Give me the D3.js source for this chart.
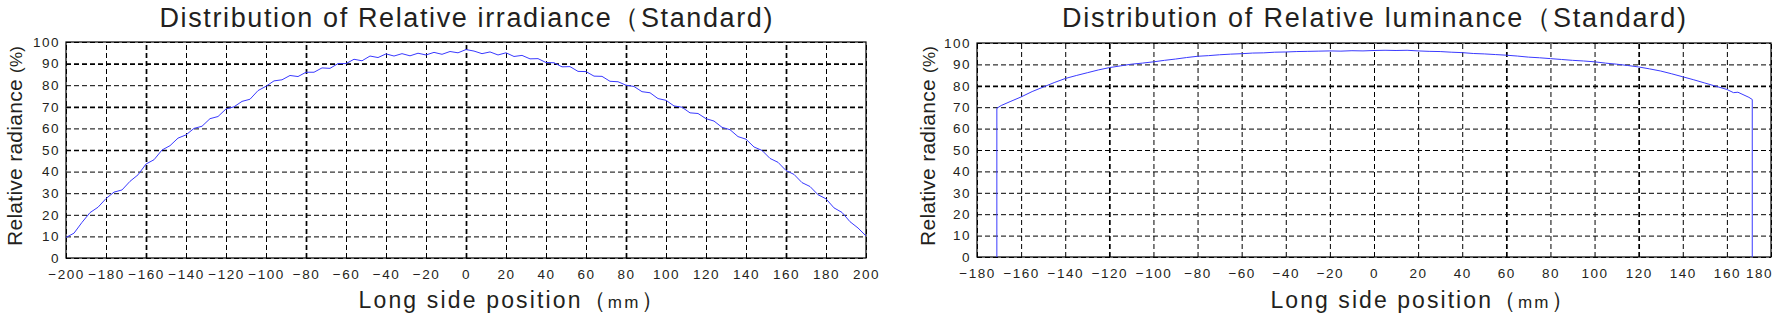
<!DOCTYPE html>
<html>
<head>
<meta charset="utf-8">
<script src="https://cdn.jsdelivr.net/npm/d3@7"></script>
<style>
  body { margin: 0; background: #fff; }
  svg { display: block; }
  text { font-family: "Liberation Sans", Arial, sans-serif; fill: #231f20; }
</style>
</head>
<body>
<svg id="chart" width="1782" height="318"></svg>
<script>
//tick values
var yTicks = [0, 10, 20, 30, 40, 50, 60, 70, 80, 90, 100];
var irrTicks = d3.range(-200, 201, 20);
var lumTicks = d3.range(-180, 181, 20);

//irradiance curve, one value every 4 mm from -200 to 200
var irrPos = d3.range(-200, 201, 4);
var irrVal = [
	9.5, 11.5, 16.5, 21, 23.5, 27.5, 30.5, 31.5, 35.5, 38.5,
	43.5, 45.5, 50, 52, 55.5, 57, 60, 61, 64.5, 65.5,
	69, 70, 72.5, 73.5, 77.5, 79.5, 82, 82.5, 84.5, 84,
	86, 86, 88, 87.8, 90, 90, 92, 91.3, 93.5, 92.8,
	94.5, 93.5, 94.6, 93.6, 94.8, 94, 95.2, 94.3, 95.6, 95,
	96.5, 95.8, 94.6, 95.4, 94, 95, 93.3, 93.8, 92.2, 92.3,
	90.5, 90.4, 88.5, 88.6, 86.4, 86.3, 84.2, 84.1, 81.8, 81.6,
	80, 79.4, 77, 76.5, 73.8, 73, 70.4, 69.8, 67.2, 66.9,
	64.5, 63.4, 60.5, 59.4, 56.2, 55, 51.4, 49.8, 46.1, 44.3,
	40.5, 38.7, 34.9, 33.1, 29.3, 27.4, 23.2, 21.1, 16.8, 13.9,
	10.2
];

//luminance curve
var lumPos = [
	-171, -171, -169, -165, -160, -155, -150, -145, -140, -135,
	-130, -125, -120, -115, -110, -105, -100, -95, -90, -85,
	-80, -75, -70, -65, -60, -55, -50, -45, -40, -35,
	-30, -25, -20, -15, -10, -5, 0, 5, 10, 15,
	20, 25, 30, 35, 40, 45, 50, 55, 60, 65,
	70, 75, 80, 85, 90, 95, 100, 105, 110, 115,
	120, 125, 130, 135, 140, 145, 150, 155, 160, 163,
	165, 170, 171.5, 171.5
];
var lumVal = [
	0, 69.5, 70.8, 72.6, 74.8, 77.3, 79.4, 81.5, 83.4, 84.8,
	86.1, 87.4, 88.5, 89.3, 90.1, 90.6, 91.2, 91.9, 92.5, 93.2,
	93.8, 94.1, 94.5, 94.8, 95.0, 95.3, 95.4, 95.7, 95.8, 96.0,
	96.1, 96.2, 96.3, 96.2, 96.4, 96.3, 96.5, 96.6, 96.5, 96.6,
	96.3, 96.1, 96.0, 95.7, 95.5, 95.1, 94.9, 94.6, 94.3, 93.9,
	93.4, 93.1, 92.7, 92.3, 91.9, 91.6, 91.2, 90.6, 90.1, 89.5,
	88.8, 87.9, 86.9, 85.6, 84.2, 82.8, 81.3, 79.8, 78.3, 76.8,
	77.0, 74.6, 73.6, 0
];

var svg = d3.select('#chart');

//draw one panel
function drawPanel(cfg) {
	var g = svg.append('g');
	var x = d3.scaleLinear().domain(cfg.xDomain).range([cfg.left, cfg.right]);
	var y = d3.scaleLinear().domain([0, 100]).range([cfg.bottom, cfg.top]);
	var w = cfg.right - cfg.left;
	var h = cfg.bottom - cfg.top;

	//horizontal grid + y labels
	var ya = g.append('g')
		.attr('transform', `translate(${cfg.left},0)`)
		.call(d3.axisLeft(y).tickValues(yTicks).tickSize(-w).tickPadding(6));
	//vertical grid + x labels
	var xa = g.append('g')
		.attr('transform', `translate(0,${cfg.bottom})`)
		.call(d3.axisBottom(x).tickValues(cfg.xTicks).tickSize(-h).tickPadding(11));

	[ya, xa].forEach(function(a) {
		a.select('.domain').remove();
		a.selectAll('line')
			.attr('stroke', '#000')
			.attr('stroke-dasharray', '5,3');
		a.selectAll('text')
			.style('font-size', '13.5px')
			.style('letter-spacing', '1.5px')
			.attr('fill', '#231f20');
	});
	//some grid lines look heavier in the source image
	ya.selectAll('.tick line').filter(d => cfg.boldY.includes(d)).attr('stroke-width', 1.7);
	xa.selectAll('.tick line').filter(d => cfg.boldX.includes(d)).attr('stroke-width', 1.7);
	//last x label sits inside the right edge
	xa.selectAll('.tick text').filter(d => d === cfg.xDomain[1]).attr('dx', cfg.lastShift);

	//frame
	g.append('rect')
		.attr('x', cfg.left).attr('y', cfg.top)
		.attr('width', w).attr('height', h)
		.attr('fill', 'none')
		.attr('stroke', '#000')
		.attr('stroke-width', 1.2);

	//curve
	var line = d3.line().x(d => x(d[0])).y(d => y(d[1]));
	g.append('path')
		.datum(cfg.pos.map((p, i) => [p, cfg.val[i]]))
		.attr('d', line)
		.attr('fill', 'none')
		.attr('stroke', '#3a3aff')
		.attr('stroke-width', 1);

	var cx = (cfg.left + cfg.right) / 2;
	//title
	g.append('text')
		.attr('x', cx).attr('y', 27)
		.attr('text-anchor', 'middle')
		.attr('textLength', cfg.titleLen)
		.attr('lengthAdjust', 'spacing')
		.style('font-size', '27px')
		.text(cfg.title);
	//x label
	var xl = g.append('text')
		.attr('x', cx + cfg.xLabelShift).attr('y', 308)
		.attr('text-anchor', 'middle')
		.attr('textLength', cfg.xLabelLen)
		.attr('lengthAdjust', 'spacing')
		.style('font-size', '23px');
	xl.append('tspan').text('Long side position（');
	xl.append('tspan').style('font-size', '17px').text('mm');
	xl.append('tspan').text('）');
	//y label
	var yl = g.append('text')
		.attr('transform', `translate(${cfg.yLabelX},${(cfg.top + cfg.bottom) / 2 - 4}) rotate(-90)`)
		.attr('text-anchor', 'middle')
		.attr('textLength', 200)
		.attr('lengthAdjust', 'spacing')
		.style('font-size', '21px');
	yl.append('tspan').text('Relative radiance ');
	yl.append('tspan').style('font-size', '17px').text('(%)');
}

drawPanel({
	title: 'Distribution of Relative irradiance（Standard)',
	xDomain: [-200, 200], xTicks: irrTicks,
	left: 66, right: 866, top: 42, bottom: 258,
	yLabelX: 22, pos: irrPos, val: irrVal,
	boldY: [50, 70, 90], boldX: [-160, -80, 0, 80, 160],
	titleLen: 613, xLabelLen: 305, xLabelShift: 45, lastShift: 0
});
drawPanel({
	title: 'Distribution of Relative luminance（Standard)',
	xDomain: [-180, 180], xTicks: lumTicks,
	left: 977, right: 1771, top: 43, bottom: 257,
	yLabelX: 935, pos: lumPos, val: lumVal,
	boldY: [80], boldX: [-120, 60, 120],
	titleLen: 624, xLabelLen: 303, xLabelShift: 48, lastShift: -12
});
</script>
</body>
</html>
